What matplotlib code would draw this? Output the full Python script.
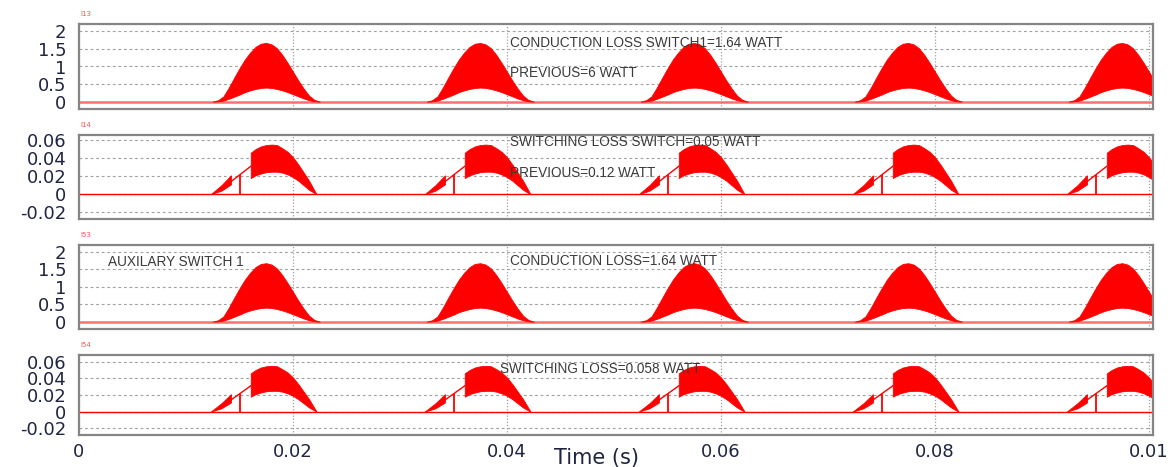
import matplotlib
matplotlib.use("Agg")
import matplotlib.pyplot as plt
import numpy as np

W, H = 1176, 467

# start of every 20 ms period
period_offsets = [0.0, 0.02, 0.04, 0.06, 0.08]

# conduction current hump (first period), envelope
cond_t_ms = [12.5, 13.0, 13.5, 14.0, 14.5, 15.0, 15.5, 16.0, 16.5, 17.0, 17.5,
	18.0, 18.5, 19.0, 19.5, 20.0, 20.5, 21.0, 21.5, 22.0, 22.5]
cond_upper = [0.0, 0.04, 0.15, 0.4, 0.68, 0.95, 1.2, 1.4, 1.56, 1.65, 1.67,
	1.63, 1.52, 1.33, 1.1, 0.85, 0.6, 0.37, 0.17, 0.05, 0.0]
cond_lower = [0.0, 0.01, 0.03, 0.08, 0.14, 0.2, 0.27, 0.32, 0.36, 0.39, 0.4,
	0.39, 0.36, 0.32, 0.27, 0.21, 0.15, 0.09, 0.04, 0.01, 0.0]

# switching loss waveform (first period)
sw_wedge_t_ms = [12.3, 13.3, 14.2]
sw_wedge_upper = [0.0, 0.010, 0.021]
sw_wedge_lower = [0.0, 0.004, 0.011]
sw_ramp_t_ms = [14.2, 16.05]
sw_ramp_vals = [0.014, 0.031]
sw_spike_t_ms = 15.05
sw_spike_top = 0.021
sw_block_t_ms = [16.05, 16.5, 17.0, 17.5, 18.0, 18.5, 19.0, 19.5, 20.0, 20.5, 21.0, 21.5, 22.2]
sw_block_upper = [0.046, 0.050, 0.053, 0.0545, 0.055, 0.0545, 0.051, 0.047, 0.041, 0.033, 0.024, 0.015, 0.0]
sw_block_lower = [0.018, 0.021, 0.023, 0.0245, 0.025, 0.025, 0.024, 0.022, 0.019, 0.015, 0.010, 0.005, 0.0]

panel_names = ["I13", "I14", "I53", "I54"]
cond_yticks = [0, 0.5, 1, 1.5, 2]
cond_ylabels = ["0", "0.5", "1", "1.5", "2"]
sw_yticks = [-0.02, 0, 0.02, 0.04, 0.06]
sw_ylabels = ["-0.02", "0", "0.02", "0.04", "0.06"]
x_ticks = [0, 0.02, 0.04, 0.06, 0.08, 0.1]
x_labels = ["0", "0.02", "0.04", "0.06", "0.08", "0.01"]

RED = "#ff0000"
TXT = "#3a3a3a"
TICK = "#1f2540"


def px(x, y):
	return x / W, 1 - y / H


def style_axes(ax, yticks, ylabels, ylim):
	ax.set_xlim(0, 0.10037)
	ax.set_ylim(*ylim)
	ax.set_yticks(yticks)
	ax.set_yticklabels(ylabels)
	ax.set_xticks(x_ticks)
	for y in yticks:
		ax.axhline(y, color="#a0a0a0", lw=0.8, ls=(0, (2.5, 2.5)), zorder=0)
	for x in x_ticks:
		ax.axvline(x, color="#a0a0a0", lw=0.9, ls=(0, (1, 1.5)), zorder=0)
	ax.tick_params(length=0, labelsize=13, labelcolor=TICK, pad=9)
	for s in ax.spines.values():
		s.set_color("#858585")
		s.set_linewidth(1.6)


def draw_conduction(ax):
	ax.axhline(0, color="#ff7070", lw=1.8, zorder=1)
	t = np.array(cond_t_ms) / 1000
	for off in period_offsets:
		ax.fill_between(t + off, cond_lower, cond_upper, color=RED, lw=0.6, zorder=2)


def draw_switching(ax):
	ax.axhline(0, color=RED, lw=1.0, zorder=1)
	tw = np.array(sw_wedge_t_ms) / 1000
	tr = np.array(sw_ramp_t_ms) / 1000
	tb = np.array(sw_block_t_ms) / 1000
	for off in period_offsets:
		ax.fill_between(tw + off, sw_wedge_lower, sw_wedge_upper, color=RED, lw=0.6, zorder=2)
		ax.plot(tr + off, sw_ramp_vals, color=RED, lw=1.0, zorder=2)
		ax.vlines(sw_spike_t_ms / 1000 + off, 0, sw_spike_top, color=RED, lw=1.3, zorder=2)
		ax.fill_between(tb + off, sw_block_lower, sw_block_upper, color=RED, lw=0.6, zorder=2)


fig = plt.figure(figsize=(W / 100, H / 100), dpi=100)

# axes boxes in pixels: top, bottom
boxes = [(24, 109), (135, 219), (245, 329), (355, 435)]
axes = []
for top, bot in boxes:
	ax = fig.add_axes([79 / W, 1 - bot / H, (1153 - 79) / W, (bot - top) / H])
	axes.append(ax)

draw_conduction(axes[0])
style_axes(axes[0], cond_yticks, cond_ylabels, (-0.21, 2.21))
draw_switching(axes[1])
style_axes(axes[1], sw_yticks, sw_ylabels, (-0.0273, 0.0656))
draw_conduction(axes[2])
style_axes(axes[2], cond_yticks, cond_ylabels, (-0.21, 2.19))
draw_switching(axes[3])
style_axes(axes[3], sw_yticks, sw_ylabels, (-0.028, 0.068))

for ax in axes[:3]:
	ax.set_xticklabels([])
axes[3].set_xticklabels(x_labels)
axes[3].tick_params(axis="x", pad=6)

for ax, name, (top, bot) in zip(axes, panel_names, boxes):
	fig.text(*px(80, top - 10), name, color="#ff5050", fontsize=5, va="center", ha="left")

notes = [
	(510, 43, "CONDUCTION LOSS SWITCH1=1.64 WATT"),
	(510, 73, "PREVIOUS=6 WATT"),
	(510, 142, "SWITCHING LOSS SWITCH=0.05 WATT"),
	(510, 173, "PREVIOUS=0.12 WATT"),
	(108, 262, "AUXILARY SWITCH 1"),
	(510, 261, "CONDUCTION LOSS=1.64 WATT"),
	(500, 369, "SWITCHING LOSS=0.058 WATT"),
]
for x, y, s in notes:
	fig.text(*px(x, y), s, color=TXT, fontsize=9.8, family="Liberation Sans",
		va="center", ha="left", zorder=5)

fig.text(*px(596, 458), "Time (s)", color=TICK, fontsize=15, ha="center", va="center")

fig.savefig("out.png", dpi=100)
